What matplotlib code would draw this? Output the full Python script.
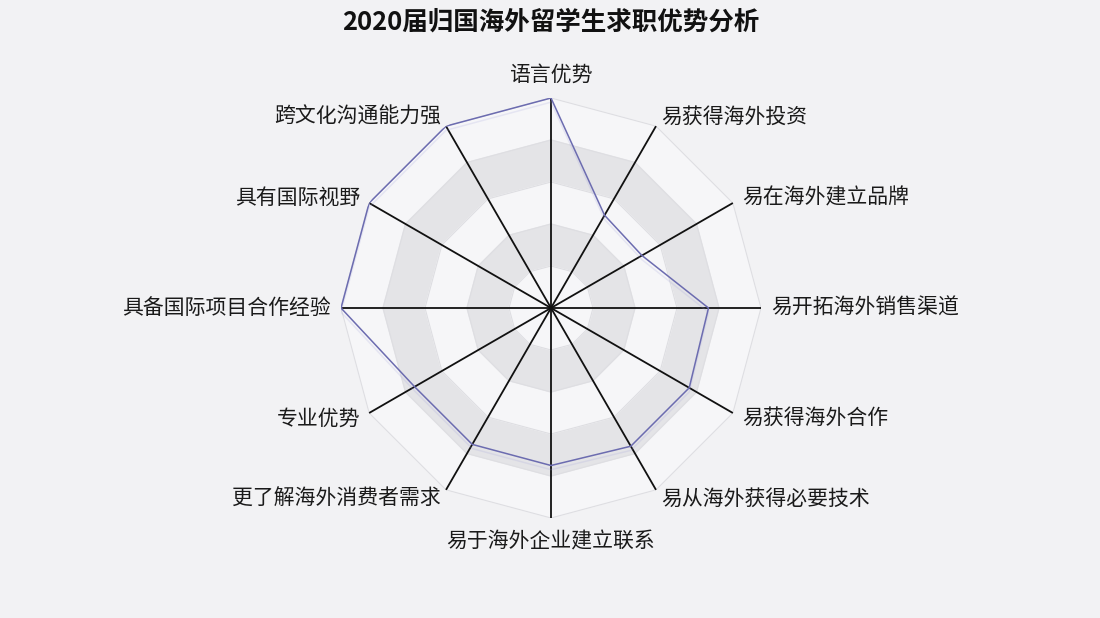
import matplotlib.pyplot as plt
import matplotlib.patheffects as pe
import numpy as np

plt.rcParams['font.family'] = ['Noto Sans CJK SC', 'DejaVu Sans']

# categories clockwise from the top
categories = ['语言优势', '易获得海外投资', '易在海外建立品牌', '易开拓海外销售渠道',
              '易获得海外合作', '易从海外获得必要技术', '易于海外企业建立联系',
              '更了解海外消费者需求', '专业优势', '具备国际项目合作经验',
              '具有国际视野', '跨文化沟通能力强']
values = [1.0, 0.51, 0.50, 0.75, 0.76, 0.76, 0.75, 0.75, 0.75, 1.0, 1.0, 1.0]
levels = [0.2, 0.4, 0.6, 0.8, 1.0]
title = '2020届归国海外留学生求职优势分析'

bg = '#f2f2f4'
light = '#f6f6f8'
gray = '#e4e4e7'

n = len(categories)
angles = np.linspace(0, 2 * np.pi, n, endpoint=False)
closed = np.append(angles, angles[0])

fig = plt.figure(figsize=(11, 6.18), dpi=100, facecolor=bg)
cx, cy = 551 / 1100, 1 - 308 / 618
w, h = 420 / 1100, 420 / 618
ax = fig.add_axes([cx - w / 2, cy - h / 2, w, h], projection='polar')
ax.set_facecolor('none')
ax.set_theta_offset(np.pi / 2)
ax.set_theta_direction(-1)
ax.set_ylim(0, 1)
ax.grid(False)
ax.spines['polar'].set_visible(False)
ax.set_xticks([])
ax.set_yticks([])

# polygon bands, outer to inner
for i, lv in enumerate(reversed(levels)):
    col = light if i % 2 == 0 else gray
    ax.fill(closed, [lv] * (n + 1), color=col, zorder=1)
    ax.plot(closed, [lv] * (n + 1), color='#dedee2', lw=0.8, zorder=1.5)

# spokes
for a in angles:
    ax.plot([a, a], [0, 1], color='#111111', lw=1.3, zorder=2)

# data line
vals = values + values[:1]
ax.plot(closed, vals, color='#6c6cb0', lw=1.1, zorder=3,
        path_effects=[pe.SimpleLineShadow(offset=(0, -3), shadow_color='#9a9ad8', alpha=0.18),
                      pe.Normal()])

# category labels
for a, lab in zip(angles, categories):
    deg = np.degrees(a)
    if deg < 1 or abs(deg - 180) < 1:
        ax.text(a, 1.11, lab, ha='center', va='center', fontsize=15, color='#1a1a1a')
    elif deg < 180:
        ax.text(a, 1.05, lab, ha='left', va='center', fontsize=15, color='#1a1a1a')
    else:
        ax.text(a, 1.05, lab, ha='right', va='center', fontsize=15, color='#1a1a1a')

fig.text(0.501, 1 - 22 / 618, title, ha='center', va='center', fontsize=18.4,
         fontweight='bold', color='#111111')

fig.savefig('out.png', dpi=100, facecolor=bg)
